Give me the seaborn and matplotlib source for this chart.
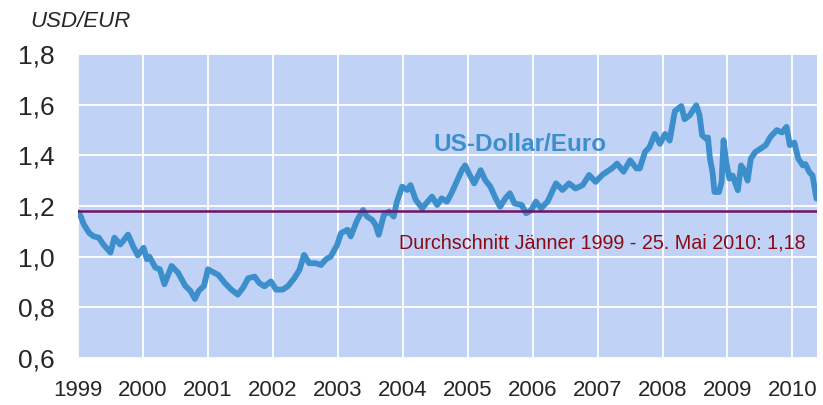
import pandas as pd
import matplotlib
matplotlib.use("Agg")
import matplotlib.pyplot as plt
import seaborn as sns
from matplotlib.ticker import FuncFormatter

# values (decimal year, USD per EUR), one row per year
dates = [
    1999.00, 1999.04, 1999.09, 1999.17, 1999.24, 1999.32, 1999.39, 1999.50, 1999.56, 1999.65, 1999.69, 1999.77, 1999.85, 1999.92,
    2000.01, 2000.06, 2000.10, 2000.19, 2000.26, 2000.33, 2000.44, 2000.54, 2000.65, 2000.73, 2000.80, 2000.86, 2000.94,
    2001.00, 2001.16, 2001.26, 2001.36, 2001.46, 2001.54, 2001.62, 2001.72, 2001.79, 2001.87, 2001.97,
    2002.05, 2002.15, 2002.23, 2002.33, 2002.41, 2002.48, 2002.56, 2002.66, 2002.74, 2002.82, 2002.89, 2002.99,
    2003.05, 2003.15, 2003.20, 2003.30, 2003.39, 2003.45, 2003.53, 2003.58, 2003.63, 2003.71, 2003.79, 2003.86, 2003.91, 2003.99,
    2004.07, 2004.12, 2004.20, 2004.30, 2004.36, 2004.45, 2004.53, 2004.60, 2004.68, 2004.75, 2004.83, 2004.91, 2004.96,
    2005.02, 2005.10, 2005.20, 2005.27, 2005.35, 2005.43, 2005.50, 2005.58, 2005.65, 2005.72, 2005.83, 2005.90, 2005.98,
    2006.05, 2006.13, 2006.23, 2006.36, 2006.46, 2006.56, 2006.66, 2006.77, 2006.87, 2006.97,
    2007.07, 2007.22, 2007.30, 2007.40, 2007.50, 2007.60, 2007.65, 2007.73, 2007.80, 2007.88, 2007.96,
    2008.04, 2008.11, 2008.19, 2008.29, 2008.34, 2008.42, 2008.47, 2008.52, 2008.57, 2008.61, 2008.67, 2008.70, 2008.73,
    2008.77, 2008.80, 2008.87, 2008.91, 2008.94, 2008.98,
    2009.03, 2009.08, 2009.16, 2009.21, 2009.26, 2009.31, 2009.36, 2009.43, 2009.51, 2009.59, 2009.66, 2009.76, 2009.84,
    2009.91, 2009.96,
    2010.03, 2010.09, 2010.16, 2010.20, 2010.26, 2010.31, 2010.37,
]
usd_eur = [
    1.175, 1.160, 1.127, 1.094, 1.080, 1.075, 1.048, 1.016, 1.075, 1.048, 1.060, 1.087, 1.040, 1.005,
    1.035, 0.990, 1.000, 0.957, 0.950, 0.891, 0.963, 0.937, 0.885, 0.865, 0.833, 0.865, 0.885,
    0.950, 0.928, 0.896, 0.870, 0.850, 0.877, 0.915, 0.921, 0.896, 0.883, 0.902,
    0.870, 0.870, 0.883, 0.915, 0.948, 1.007, 0.974, 0.974, 0.967, 0.990, 1.000, 1.046,
    1.093, 1.106, 1.080, 1.145, 1.184, 1.158, 1.145, 1.126, 1.086, 1.165, 1.178, 1.158, 1.217, 1.276,
    1.263, 1.282, 1.224, 1.191, 1.210, 1.237, 1.204, 1.230, 1.217, 1.250, 1.295, 1.341, 1.360,
    1.328, 1.289, 1.341, 1.302, 1.276, 1.230, 1.197, 1.230, 1.250, 1.210, 1.204, 1.171, 1.184,
    1.217, 1.191, 1.217, 1.289, 1.263, 1.289, 1.269, 1.282, 1.322, 1.295,
    1.322, 1.348, 1.367, 1.335, 1.380, 1.348, 1.348, 1.413, 1.432, 1.484, 1.445,
    1.484, 1.458, 1.574, 1.594, 1.542, 1.558, 1.578, 1.597, 1.558, 1.479, 1.466, 1.470, 1.387,
    1.334, 1.255, 1.255, 1.295, 1.459, 1.374,
    1.308, 1.320, 1.262, 1.360, 1.340, 1.300, 1.387, 1.413, 1.426, 1.440, 1.472, 1.499, 1.490,
    1.512, 1.440,
    1.450, 1.387, 1.360, 1.365, 1.334, 1.320, 1.229,
]
average = 1.18
years = list(range(1999, 2011))
y_ticks = [0.6, 0.8, 1.0, 1.2, 1.4, 1.6, 1.8]

df = pd.DataFrame({"date": dates, "rate": usd_eur})

sns.set_style("white")
plt.rcParams["font.family"] = ["Liberation Sans", "DejaVu Sans"]

fig = plt.figure(figsize=(8.23, 4.05), dpi=100)
ax = fig.add_axes([0.0948, 0.116, 0.898, 0.751])
ax.set_facecolor("#C0D3F7")

sns.lineplot(data=df, x="date", y="rate", ax=ax, color="#3D8FCC", linewidth=4.2, zorder=3)
ax.axhline(average, color="#6E1462", linewidth=1.8, zorder=4)

ax.set_xlim(1999.0, 2010.38)
ax.set_ylim(0.6, 1.8)
ax.set_xticks(years)
ax.set_yticks(y_ticks)
ax.yaxis.set_major_formatter(FuncFormatter(lambda v, p: f"{v:.1f}".replace(".", ",")))
ax.grid(True, color="white", linewidth=1.3)
ax.set_axisbelow(True)
for s in ax.spines.values():
    s.set_visible(False)
ax.tick_params(axis="x", length=0, pad=16, labelsize=16)
ax.tick_params(axis="y", length=0, pad=17, labelsize=19)
ax.set_xlabel("")
ax.set_ylabel("")

ax.text(2004.47, 1.441, "US-Dollar/Euro", color="#3D8FCC", fontsize=17.5,
        fontweight="bold", ha="left", va="center", zorder=5)
ax.text(2003.94, 1.054, "Durchschnitt Jänner 1999 - 25. Mai 2010: 1,18", color="#8B0A14",
        fontsize=14.2, ha="left", va="center", zorder=5)
fig.text(0.0365, 0.946, "USD/EUR", fontsize=16, style="italic", ha="left", va="center")

fig.savefig("out.png", dpi=100)
